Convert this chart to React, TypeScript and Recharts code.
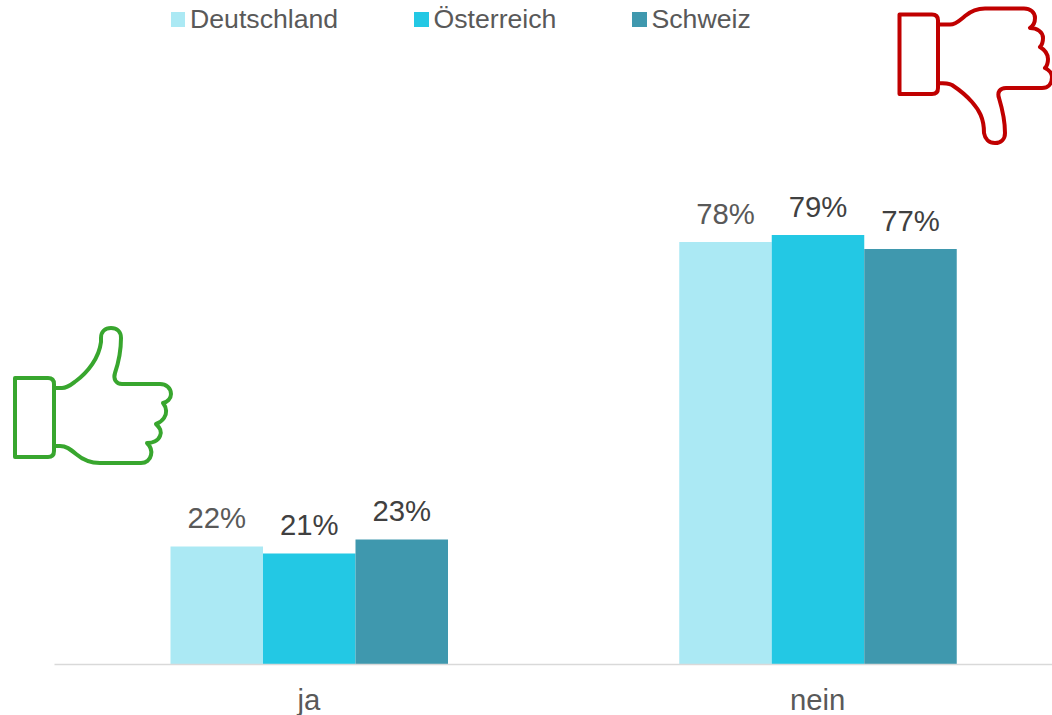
import React from "react";
import { BarChart, Bar, XAxis, YAxis, LabelList } from "recharts";

const categories = ["ja", "nein"];
const seriesNames = ["Deutschland", "Österreich", "Schweiz"];
const deutschland = [21.8, 78];
const oesterreich = [20.5, 79.3];
const schweiz = [23.1, 76.7];
const deutschlandLabels = ["22%", "78%"];
const oesterreichLabels = ["21%", "79%"];
const schweizLabels = ["23%", "77%"];

const colors = ["#ABE9F4", "#23C8E4", "#3F98AE"];
const labelColors = ["#595959", "#404040", "#404040"];
const legendX = [170.5, 414, 632];
const FONT = '"Liberation Sans", Arial, sans-serif';

const data = categories.map((c, i) => ({
  name: c,
  Deutschland: deutschland[i],
  "Österreich": oesterreich[i],
  Schweiz: schweiz[i],
  lab0: deutschlandLabels[i],
  lab1: oesterreichLabels[i],
  lab2: schweizLabels[i],
}));

const thumbUp =
  "M15 378 H48 Q54 378 54 384 V451 Q54 457 48 457 H15 Z " +
  "M54 388 H62 C68 388 72 384 76 381 C88 372 99 358 101 342 V338 C101 332 105 328 111 328 C117 328 121 332 121 338 C121 352 118 364 115 373 C113 379 116 384 122 384 H160 C166 384 171 388 171 394 C171 399 167 402 163 403 C167 408 167 414 164 418 C162 421 159 423 156 424 C160 428 162 431 160 436 C158 441 152 443 147 443 C151 447 152 451 151 455 C150 460 146 463 141 463 H100 C90 463 83 460 76 454 C70 449 66 446 60 446 H54";

const thumbDown =
  "M899.5 14.5 H932 Q938 14.5 938 20.5 V88 Q938 94 932 94 H899.5 Z " +
  "M938 24.5 H950 C956 24.5 960 20 965 16 C971 11 977 8.5 985 8.5 H1024 C1030 8.5 1035 12 1035 18 C1035 22 1033 26 1030 28 C1037 28 1043 32 1043 38 C1043 42 1042 45 1040 47 C1045 50 1048 54 1048 59 C1048 63 1047 66 1045 68 C1049 70 1052 73 1052 77 C1052 84 1048 88 1042 88 H1006 C1000 88 997 92 999 98 C1002 108 1005 120 1005 133 C1005 139 1001 143 995 143 C989 143 985 139 984 133 C984 118 979 110 972 102 C966 95 958 89 952 85 C948 83 945 83 938 83";

const makeLabel = (idx: number) => (props: any) => {
  const { x, y, width, index } = props;
  const text = data[index][("lab" + idx) as "lab0"];
  return (
    <text
      x={x + width / 2}
      y={y - 18}
      textAnchor="middle"
      fontFamily={FONT}
      fontSize={29.3}
      fill={labelColors[idx]}
    >
      {text}
    </text>
  );
};

const LegendRow = () => (
  <div style={{ position: "absolute", left: 0, top: 0, width: 1052, height: 40 }}>
    {seriesNames.map((n, i) => (
      <React.Fragment key={n}>
        <div
          style={{
            position: "absolute",
            left: legendX[i],
            top: 12,
            width: 14.5,
            height: 15,
            background: colors[i],
          }}
        />
        <div
          style={{
            position: "absolute",
            left: legendX[i] + 19.5,
            top: 3,
            fontFamily: FONT,
            fontSize: 26.67,
            lineHeight: "32px",
            color: "#595959",
            whiteSpace: "nowrap",
          }}
        >
          {n}
        </div>
      </React.Fragment>
    ))}
  </div>
);

export default function App() {
  return (
    <div
      style={{
        position: "absolute",
        left: 0,
        top: 0,
        width: 1052,
        height: 715,
        overflow: "hidden",
        background: "#fff",
      }}
    >
      <BarChart
        width={1072}
        height={715}
        data={data}
        margin={{ top: 177, right: 0, bottom: 0.5, left: 54.5 }}
        barCategoryGap={115.5}
        barGap={0}
        barSize={92.5}
      >
        <XAxis
          dataKey="name"
          height={50}
          axisLine={{ stroke: "#D9D9D9", strokeWidth: 1.5 }}
          tickLine={false}
          tick={{ fontFamily: FONT, fontSize: 29.3, fill: "#595959" }}
          tickMargin={19}
        />
        <YAxis hide domain={[0, 90]} />
        {seriesNames.map((n, i) => (
          <Bar key={n} dataKey={n} fill={colors[i]} isAnimationActive={false}>
            <LabelList content={makeLabel(i)} />
          </Bar>
        ))}
      </BarChart>
      <LegendRow />
      <svg
        width={1052}
        height={715}
        style={{ position: "absolute", left: 0, top: 0, pointerEvents: "none" }}
      >
        <path d={thumbUp} fill="none" stroke="#38A62E" strokeWidth={4} strokeLinejoin="round" />
        <path d={thumbDown} fill="none" stroke="#C00000" strokeWidth={4} strokeLinejoin="round" />
      </svg>
    </div>
  );
}
